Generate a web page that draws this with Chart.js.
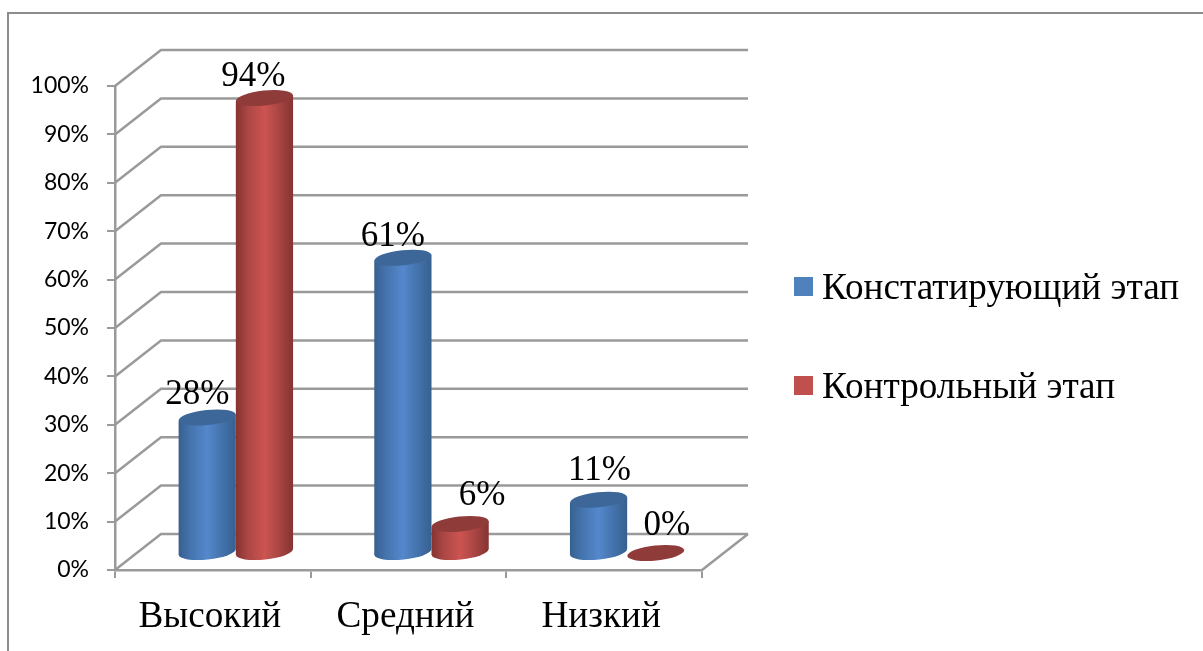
<!DOCTYPE html>
<html>
<head>
<meta charset="utf-8">
<title>chart</title>
<style>
  html, body { margin: 0; padding: 0; background: #fff; overflow: hidden; }
  canvas { display: block; }
</style>
<script src="https://cdn.jsdelivr.net/npm/chart.js@4"></script>
</head>
<body>
<canvas id="c" width="1203" height="651"></canvas>
<script>
const categories = ['Высокий', 'Средний', 'Низкий'];
const seriesNames = ['Констатирующий этап', 'Контрольный этап'];
const firstStage = [28, 61, 11];
const controlStage = [94, 6, 0];

// hand placed data labels, relative to the top of the bar
const labelNudgeX = [[-10, -10, 1], [-11, 22, 11]];
const labelNudgeY = [[-13, -12, -20], [-12, -19, -18]];

const GRID = '#9a9a9a';
const SERIF = '"Liberation Serif", serif';
const TILT = 6 * Math.PI / 180;
const wallDx = 46, wallDy = -36;
const barDx = 23, barDy = -17;
const looks = [
  { edge: '#36608f', soft: '#4473ad', mid: '#5488cc', top: '#3c6798', key: '#4f81bd' },
  { edge: '#853331', soft: '#a94644', mid: '#cc5451', top: '#8f3b3a', key: '#c0504d' }
];

const walls = {
  id: 'walls',
  beforeDraw(chart) {
    const { ctx, chartArea: a, scales: { y } } = chart;
    ctx.save();
    ctx.fillStyle = '#fff';
    ctx.fillRect(0, 0, chart.width, chart.height);
    // outer frame, cut off by the picture on the right and bottom
    ctx.strokeStyle = '#8c8c8c';
    ctx.lineWidth = 2;
    ctx.beginPath();
    ctx.moveTo(8, chart.height);
    ctx.lineTo(8, 13);
    ctx.lineTo(chart.width, 13);
    ctx.stroke();
    ctx.strokeStyle = GRID;
    ctx.lineWidth = 2.5;
    y.ticks.forEach(t => {
      const py = y.getPixelForValue(t.value);
      ctx.beginPath();
      ctx.moveTo(a.left, py);
      ctx.lineTo(a.left + wallDx, py + wallDy);
      ctx.lineTo(a.right + wallDx, py + wallDy);
      ctx.stroke();
    });
    // floor
    ctx.beginPath();
    ctx.moveTo(a.right, a.bottom);
    ctx.lineTo(a.right + wallDx, a.bottom + wallDy);
    ctx.stroke();
    ctx.restore();
  }
};

function ellipse(ctx, cx, cy, rx, ry) {
  ctx.beginPath();
  ctx.ellipse(cx, cy, rx, ry, -TILT, 0, Math.PI * 2);
}

function cylinder(ctx, bar, look) {
  const cx = bar.x + barDx;
  const top = bar.y + barDy;
  const base = bar.base + barDy;
  const rx = bar.width / 2, ry = 7.5;
  const lean = rx * Math.tan(TILT);
  if (base - top > 0.5) {
    const g = ctx.createLinearGradient(cx - rx, 0, cx + rx, 0);
    g.addColorStop(0, look.edge);
    g.addColorStop(0.2, look.soft);
    g.addColorStop(0.5, look.mid);
    g.addColorStop(0.75, look.soft);
    g.addColorStop(1, look.edge);
    ctx.fillStyle = g;
    ellipse(ctx, cx, base, rx, ry);
    ctx.fill();
    ctx.beginPath();
    ctx.moveTo(cx - rx, top + lean);
    ctx.lineTo(cx + rx, top - lean);
    ctx.lineTo(cx + rx, base - lean);
    ctx.lineTo(cx - rx, base + lean);
    ctx.closePath();
    ctx.fill();
  }
  ctx.fillStyle = look.top;
  ellipse(ctx, cx, top, rx, ry);
  ctx.fill();
}

const cylinders = {
  id: 'cylinders',
  afterDatasetsDraw(chart) {
    const { ctx } = chart;
    ctx.save();
    categories.forEach((c, j) => {
      chart.data.datasets.forEach((ds, i) => {
        cylinder(ctx, chart.getDatasetMeta(i).data[j], looks[i]);
      });
    });
    ctx.fillStyle = '#000';
    ctx.font = '35px ' + SERIF;
    ctx.textAlign = 'center';
    ctx.textBaseline = 'alphabetic';
    chart.data.datasets.forEach((ds, i) => {
      chart.getDatasetMeta(i).data.forEach((bar, j) => {
        ctx.fillText(ds.data[j] + '%', bar.x + barDx + labelNudgeX[i][j], bar.y + barDy + labelNudgeY[i][j]);
      });
    });
    ctx.restore();
  }
};

const sideLegend = {
  id: 'sideLegend',
  afterDraw(chart) {
    const { ctx } = chart;
    const rows = [287, 386];
    ctx.save();
    ctx.font = '37.2px ' + SERIF;
    ctx.textAlign = 'left';
    ctx.textBaseline = 'alphabetic';
    chart.data.datasets.forEach((ds, i) => {
      ctx.fillStyle = looks[i].key;
      ctx.fillRect(794, rows[i] - 10, 19, 19);
      ctx.fillStyle = '#000';
      ctx.fillText(ds.label, 822, rows[i] + 12);
    });
    ctx.restore();
  }
};

new Chart(document.getElementById('c'), {
  type: 'bar',
  data: {
    labels: categories,
    datasets: [
      { label: seriesNames[0], data: firstStage, backgroundColor: 'transparent' },
      { label: seriesNames[1], data: controlStage, backgroundColor: 'transparent' }
    ]
  },
  options: {
    responsive: false,
    animation: false,
    categoryPercentage: 0.585,
    barPercentage: 1,
    layout: { padding: { left: 0, top: 86, right: 501, bottom: 0 } },
    plugins: { legend: { display: false }, tooltip: { enabled: false } },
    scales: {
      x: {
        afterFit(s) { s.height = 81; },
        grid: { drawOnChartArea: false, color: GRID, lineWidth: 2, tickLength: 8 },
        border: { color: GRID, width: 2.5 },
        ticks: { color: '#000', font: { family: SERIF, size: 37.2 }, padding: 17, labelOffset: -3, maxRotation: 0 }
      },
      y: {
        min: 0,
        max: 100,
        afterFit(s) { s.width = 115; },
        grid: { drawOnChartArea: false, color: GRID, lineWidth: 2, tickLength: 8 },
        border: { color: GRID, width: 2.5 },
        ticks: {
          stepSize: 10,
          color: '#000',
          font: { family: 'Lato', size: 23 },
          padding: 18,
          callback: v => v + '%'
        }
      }
    }
  },
  plugins: [walls, cylinders, sideLegend]
});
</script>
</body>
</html>
